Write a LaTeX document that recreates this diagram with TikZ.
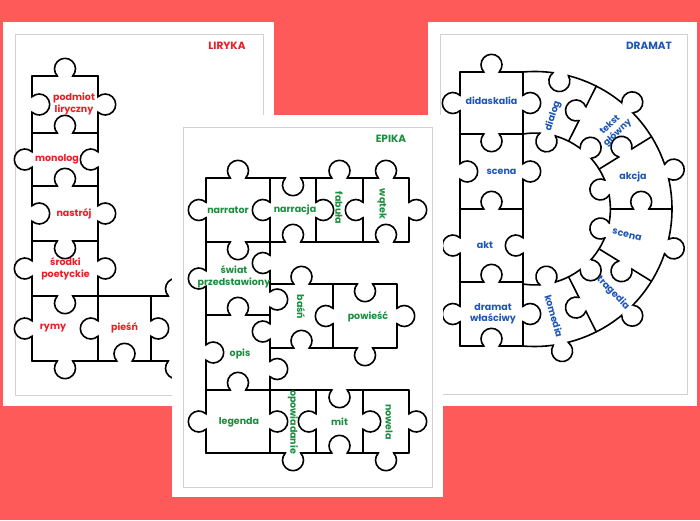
\documentclass[tikz,border=0pt]{standalone}
\usepackage{fontspec}
\setmainfont{Poppins}
\usetikzlibrary{calc}
\definecolor{bgred}{HTML}{FF5A5A}
\definecolor{lirc}{HTML}{EE1C25}
\definecolor{epic}{HTML}{1B8E3E}
\definecolor{drac}{HTML}{1E56B8}
\definecolor{framec}{HTML}{D2D2D2}
\newcommand\knob[2]{%
  \fill[white] ($#1+({#2}:7.2)$) circle (10.2);
  \draw[pz] ($#1+({#2}:7.2)+({#2+133.3}:10.5)$) arc[start angle={#2+133.3}, end angle={#2-133.3}, radius=10.5];
}
\begin{document}
\begin{tikzpicture}[x=1pt,y=-1pt,
  pz/.style={line width=1.6pt,line cap=round,line join=round,black},
  sheetbox/.style={fill=white},
  framebox/.style={draw=framec,line width=0.9pt},
  lbl/.style={font=\bfseries\fontsize{9.5}{11.5}\selectfont,align=center,inner sep=0pt},
  lir/.style={lbl,text=lirc},
  epi/.style={lbl,text=epic},
  dra/.style={lbl,text=drac},
  ttl/.style={font=\bfseries\fontsize{10.5}{12}\selectfont,inner sep=0pt}]
\useasboundingbox (0,0) rectangle (700,520);
\fill[bgred] (0,0) rectangle (700,520);

% ================= LIRYKA sheet =================
\fill[sheetbox] (3,22) rectangle (274,406);
\draw[framebox] (15,34) rectangle (263,395);
\node[ttl,text=lirc] (tlir) at (227,46) {LIRYKA};
\draw[pz] (32,76) -- (32,361);
\draw[pz] (98,76) -- (98,361);
\draw[pz] (151,296) -- (151,361);
\foreach \yy in {76,133,186,241} \draw[pz] (32,\yy) -- (98,\yy);
\draw[pz] (32,296) -- (205,296);
\draw[pz] (32,361) -- (205,361);
\knob{(65,76)}{-90}
\knob{(98,104.5)}{0}
\knob{(32,104.5)}{0}
\knob{(65,133)}{-90}
\knob{(32,159.5)}{180}
\knob{(98,159.5)}{180}
\knob{(65,186)}{-90}
\knob{(32,213.5)}{0}
\knob{(98,213.5)}{0}
\knob{(65,241)}{90}
\knob{(32,268.5)}{180}
\knob{(98,268.5)}{0}
\knob{(65,296)}{90}
\knob{(32,328.5)}{180}
\knob{(98,328.5)}{180}
\knob{(65,361)}{90}
\knob{(124.5,361)}{-90}
\knob{(151,328.5)}{0}
\knob{(176,296)}{-90}
\knob{(176,361)}{90}
\node[lir] (l1) at (74,104) {podmiot\\liryczny};
\node[lir] (l2) at (57,159.5) {monolog};
\node[lir] (l3) at (74,213.5) {nastrój};
\node[lir] (l4) at (65.5,269) {środki\\poetyckie};
\node[lir] (l5) at (53,328.5) {rymy};
\node[lir] (l6) at (124.5,327.5) {pieśń};

% ================= DRAMAT sheet =================
\fill[sheetbox] (428,22) rectangle (697,406);
\draw[framebox] (440,34) rectangle (687,394);
\node[ttl,text=drac] (tdra) at (649,46) {DRAMAT};
\coordinate (C) at (534.5,209);
\draw[pz] (460,72) -- (460,346);
\draw[pz] (523,72) -- (523,346);
\foreach \yy in {72,134,209,282,346} \draw[pz] (460,\yy) -- (523,\yy);
\draw[pz] ($(C)+(-94.8:137.5)$) arc[start angle=-94.8, end angle=94.8, radius=137.5];
\draw[pz] ($(C)+(-98.7:75.9)$) arc[start angle=-98.7, end angle=98.7, radius=75.9];
\foreach \a in {-63.3,-31.7,0,31.7,63.3} \draw[pz] ($(C)+(\a:75.9)$) -- ($(C)+(\a:137.5)$);
\knob{(491.5,72)}{-90}
\knob{(460,103)}{180}
\knob{(523,103)}{0}
\knob{(491.5,134)}{90}
\knob{(460,171.5)}{0}
\knob{(523,171.5)}{0}
\knob{(491.5,209)}{-90}
\knob{(460,245.5)}{180}
\knob{(523,245.5)}{180}
\knob{(491.5,282)}{-90}
\knob{(460,314)}{180}
\knob{(523,314)}{0}
\knob{(491.5,346)}{-90}
% ring outer
\knob{(C)+(-79:137.5)}{101}
\knob{(C)+(-47.5:137.5)}{-47.5}
\knob{(C)+(-15.8:137.5)}{-15.8}
\knob{(C)+(15.8:137.5)}{15.8}
\knob{(C)+(47.5:137.5)}{47.5}
\knob{(C)+(79:137.5)}{79}
% ring inner
\knob{(C)+(-80:75.9)}{100}
\knob{(C)+(-47.5:75.9)}{-47.5}
\knob{(C)+(-16.5:75.9)}{163.5}
\knob{(C)+(16.5:75.9)}{196.5}
\knob{(C)+(47.5:75.9)}{47.5}
\knob{(C)+(80:75.9)}{260}
% ring radial
\knob{(C)+(-63.3:106.7)}{-153.3}
\knob{(C)+(-31.7:106.7)}{-121.7}
\knob{(C)+(0:106.7)}{-90}
\knob{(C)+(31.7:106.7)}{121.7}
\knob{(C)+(63.3:106.7)}{153.3}
\node[dra] (d1) at (491.5,101) {didaskalia};
\node[dra] (d2) at (501.5,172) {scena};
\node[dra] (d3) at (485,245.5) {akt};
\node[dra] (d4) at (493,313.5) {dramat\\właściwy};
\node[dra,rotate=72] (d5) at (553,116) {dialog};
\node[dra,rotate=43,font=\bfseries\fontsize{9}{11}\selectfont] (d6) at (614,129) {tekst\\główny};
\node[dra] (d7) at (633,177) {akcja};
\node[dra,rotate=-14] (d8) at (627,235) {scena};
\node[dra,rotate=-46] (d9) at (613,293) {tragedia};
\node[dra,rotate=-74] (d10) at (554,316) {komedia};

% ================= EPIKA sheet =================
\fill[sheetbox] (172,115) rectangle (443,497);
\draw[framebox] (183,127) rectangle (432,487);
\node[ttl,text=epic] (tepi) at (391,139) {EPIKA};
\draw[pz] (206,178) rectangle (409,242);
\foreach \xx in {270,316,363} \draw[pz] (\xx,178) -- (\xx,242);
\draw[pz] (206,242) -- (206,453);
\draw[pz] (270,242) -- (270,453);
\draw[pz] (206,315) -- (270,315);
\draw[pz] (206,390) rectangle (409,453);
\foreach \xx in {316,363} \draw[pz] (\xx,390) -- (\xx,453);
\draw[pz] (270,284) rectangle (397,348);
\draw[pz] (333,284) -- (333,348);
\knob{(238,178)}{-90}
\knob{(206,210)}{180}
\knob{(270,210)}{180}
\knob{(293,178)}{90}
\knob{(316,210)}{0}
\knob{(293,242)}{-90}
\knob{(339.5,178)}{-90}
\knob{(363,210)}{180}
\knob{(386,178)}{-90}
\knob{(409,210)}{0}
\knob{(386,242)}{-90}
\knob{(238,242)}{90}
\knob{(206,278.5)}{180}
\knob{(270,263)}{180}
\knob{(270,299.5)}{0}
\knob{(238,315)}{-90}
\knob{(301.5,284)}{-90}
\knob{(270,331.5)}{180}
\knob{(333,316)}{180}
\knob{(301.5,348)}{-90}
\knob{(365,284)}{90}
\knob{(397,316)}{0}
\knob{(365,348)}{90}
\knob{(206,352.5)}{0}
\knob{(270,369)}{0}
\knob{(238,390)}{-90}
\knob{(206,421.5)}{180}
\knob{(270,421.5)}{0}
\knob{(316,421.5)}{180}
\knob{(293,453)}{90}
\knob{(339.5,390)}{90}
\knob{(363,421.5)}{0}
\knob{(339.5,453)}{-90}
\knob{(409,421.5)}{0}
\knob{(386,453)}{90}
\node[epi] (e1) at (228,210) {narrator};
\node[epi] (e2) at (295,210) {narracja};
\node[epi,rotate=-90] (e3) at (339,208) {fabuła};
\node[epi,rotate=-90] (e4) at (382,204) {wątek};
\node[epi] (e5) at (234,277) {świat\\przedstawiony};
\node[epi,rotate=-90] (e6) at (301,307) {baśń};
\node[epi] (e7) at (368,317) {powieść};
\node[epi] (e8) at (240,354) {opis};
\node[epi] (e9) at (239,422) {legenda};
\node[epi,rotate=-90] (e10) at (293,422) {opowiadanie};
\node[epi] (e11) at (339.5,422) {mit};
\node[epi,rotate=-90] (e12) at (389,422) {nowela};
\end{tikzpicture}
\end{document}
